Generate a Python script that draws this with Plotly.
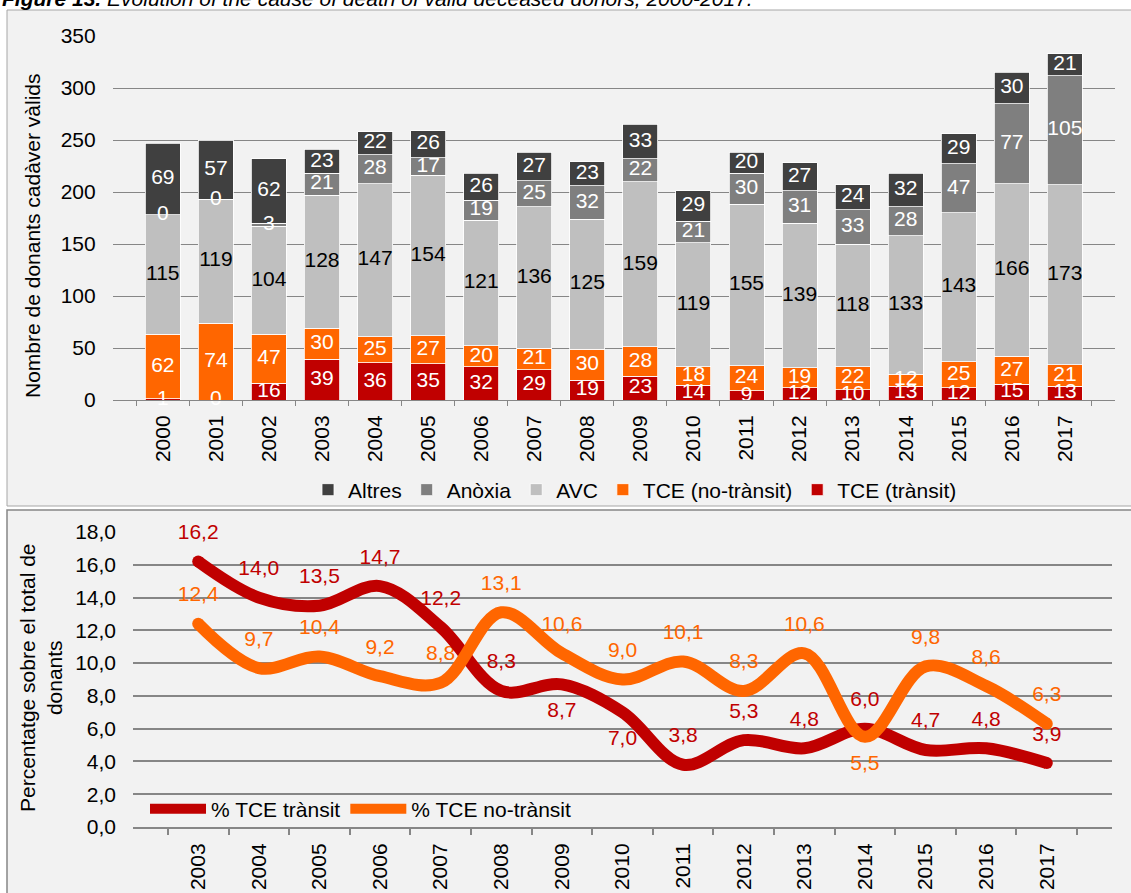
import plotly.graph_objects as go

# ---------------- data ----------------
years = [str(y) for y in range(2000, 2018)]
tce_transit = [1, 0, 16, 39, 36, 35, 32, 29, 19, 23, 14, 9, 12, 10, 13, 12, 15, 13]
tce_no_transit = [62, 74, 47, 30, 25, 27, 20, 21, 30, 28, 18, 24, 19, 22, 12, 25, 27, 21]
avc = [115, 119, 104, 128, 147, 154, 121, 136, 125, 159, 119, 155, 139, 118, 133, 143, 166, 173]
anoxia = [0, 0, 3, 21, 28, 17, 19, 25, 32, 22, 21, 30, 31, 33, 28, 47, 77, 105]
altres = [69, 57, 62, 23, 22, 26, 26, 27, 23, 33, 29, 20, 27, 24, 32, 29, 30, 21]

pct_years = [str(y) for y in range(2003, 2018)]
pct_transit = [16.2, 14.0, 13.5, 14.7, 12.2, 8.3, 8.7, 7.0, 3.8, 5.3, 4.8, 6.0, 4.7, 4.8, 3.9]
pct_no_transit = [12.4, 9.7, 10.4, 9.2, 8.8, 13.1, 10.6, 9.0, 10.1, 8.3, 10.6, 5.5, 9.8, 8.6, 6.3]

# ---------------- styles ----------------
W, H = 1131, 893
FONT = "Liberation Sans, Arial, sans-serif"
FS = 21
GRID = "#868686"
C_ALTRES, C_ANOX, C_AVC, C_NOTR, C_TR = "#404040", "#7f7f7f", "#bfbfbf", "#ff6600", "#c00000"

# label positions in the lower chart (above, except a few below)
pos_transit = ["top center"] * len(pct_years)
pos_transit[pct_years.index("2009")] = "bottom center"
pos_transit[pct_years.index("2010")] = "bottom center"
pos_no_transit = ["top center"] * len(pct_years)
pos_no_transit[pct_years.index("2014")] = "bottom center"


def px_x(p):
    return p / W


def px_y(p):
    return 1 - p / H


fig = go.Figure()

series = [
    ("TCE (trànsit)", tce_transit, C_TR, "white"),
    ("TCE (no-trànsit)", tce_no_transit, C_NOTR, "white"),
    ("AVC", avc, C_AVC, "black"),
    ("Anòxia", anoxia, C_ANOX, "white"),
    ("Altres", altres, C_ALTRES, "white"),
]

for name, vals, col, _ in series:
    fig.add_trace(go.Bar(
        x=years, y=vals, name=name, marker=dict(color=col, line=dict(color="white", width=0.8)),
        xaxis="x", yaxis="y", legend="legend", hoverinfo="skip",
    ))

# segment labels, placed at the middle of each stacked segment
base = [0] * len(years)
for name, vals, col, tcol in series:
    mids = [b + v / 2 for b, v in zip(base, vals)]
    fig.add_trace(go.Scatter(
        x=years, y=mids, mode="text", text=[str(v) for v in vals],
        textfont=dict(color=tcol, size=FS, family=FONT), textposition="middle center",
        showlegend=False, hoverinfo="skip", cliponaxis=False, xaxis="x", yaxis="y",
    ))
    base = [b + v for b, v in zip(base, vals)]

# lower chart: labels first (lines drawn over them)
for vals, col, pos in [(pct_transit, C_TR, pos_transit), (pct_no_transit, C_NOTR, pos_no_transit)]:
    fig.add_trace(go.Scatter(
        x=pct_years, y=vals, mode="markers+text", texttemplate="%{y:.1f}",
        textposition=pos, textfont=dict(color=col, size=FS, family=FONT),
        marker=dict(size=26, color="rgba(0,0,0,0)"),
        showlegend=False, hoverinfo="skip", cliponaxis=False, xaxis="x2", yaxis="y2",
    ))

for name, vals, col in [("% TCE trànsit", pct_transit, C_TR), ("% TCE no-trànsit", pct_no_transit, C_NOTR)]:
    fig.add_trace(go.Scatter(
        x=pct_years, y=vals, name=name, mode="lines",
        line=dict(color=col, width=12, shape="spline", smoothing=1.0),
        xaxis="x2", yaxis="y2", legend="legend2", hoverinfo="skip", cliponaxis=False,
    ))
    # round line caps
    fig.add_trace(go.Scatter(
        x=[pct_years[0], pct_years[-1]], y=[vals[0], vals[-1]], mode="markers",
        marker=dict(size=12, color=col, line=dict(width=0)),
        xaxis="x2", yaxis="y2", showlegend=False, hoverinfo="skip", cliponaxis=False,
    ))

fig.update_layout(
    width=W, height=H,
    margin=dict(l=0, r=0, t=0, b=0, pad=0, autoexpand=False),
    paper_bgcolor="white", plot_bgcolor="white",
    font=dict(family=FONT, size=FS, color="black"),
    separators=",.",
    barmode="stack", bargap=0.34,
    xaxis=dict(domain=[px_x(112.7), px_x(1115)], type="category", anchor="y",
               tickangle=-90, ticks="outside", tickson="boundaries", ticklen=5,
               tickcolor=GRID, showline=True, linecolor=GRID, linewidth=1,
               showgrid=False, ticklabelstandoff=6, automargin=False),
    yaxis=dict(domain=[px_y(400), px_y(36)], range=[0, 350], dtick=50, anchor="x",
               showgrid=True, gridcolor=GRID, gridwidth=1, zeroline=False,
               showline=False, ticks="", ticklabelstandoff=16, automargin=False),
    xaxis2=dict(domain=[px_x(133), px_x(1112)], type="category", anchor="y2",
                tickangle=-90, ticks="outside", tickson="boundaries", ticklen=6,
                tickcolor=GRID, tickwidth=2, showline=True, linecolor=GRID, linewidth=2,
                showgrid=False, ticklabelstandoff=6, automargin=False),
    yaxis2=dict(domain=[px_y(827), px_y(532)], range=[0, 18], dtick=2, tickformat=".1f",
                anchor="x2", showgrid=True, gridcolor=GRID, gridwidth=2, zeroline=False,
                showline=False, ticks="", ticklabelstandoff=16, automargin=False),
    legend=dict(orientation="h", x=px_x(635), xanchor="center", y=px_y(490), yanchor="middle",
                traceorder="reversed", bgcolor="rgba(0,0,0,0)", font=dict(size=FS),
                itemwidth=30),
    legend2=dict(orientation="h", x=px_x(145), xanchor="left", y=px_y(809), yanchor="middle",
                 bgcolor="rgba(0,0,0,0)", font=dict(size=FS), itemwidth=56),
    shapes=[
        dict(type="rect", xref="paper", yref="paper", x0=px_x(7), x1=px_x(1145),
             y0=px_y(506), y1=px_y(10), fillcolor="#f2f2f2",
             line=dict(color="#a6a6a6", width=1), layer="below"),
        dict(type="rect", xref="paper", yref="paper", x0=px_x(7), x1=px_x(1145),
             y0=px_y(905), y1=px_y(510), fillcolor="#f2f2f2",
             line=dict(color="#868686", width=1.5), layer="below"),
    ],
    annotations=[
        dict(xref="paper", yref="paper", x=px_x(0), y=px_y(-1.5), xanchor="left", yanchor="middle",
             showarrow=False, font=dict(size=FS),
             text="<b><i>Figure 13.</i></b><i> Evolution of the cause of death of valid deceased donors, 2000-2017.</i>"),
        dict(xref="paper", yref="paper", x=px_x(33), y=px_y(236), xanchor="center", yanchor="middle",
             showarrow=False, textangle=-90, font=dict(size=FS),
             text="Nombre de donants cadàver vàlids"),
        dict(xref="paper", yref="paper", x=px_x(41), y=px_y(678), xanchor="center", yanchor="middle",
             showarrow=False, textangle=-90, font=dict(size=FS),
             text="Percentatge sobre el total de<br>donants"),
    ],
)

fig.write_html("out.html", config={"displayModeBar": False},
               post_script="document.body.style.margin='0px';")
